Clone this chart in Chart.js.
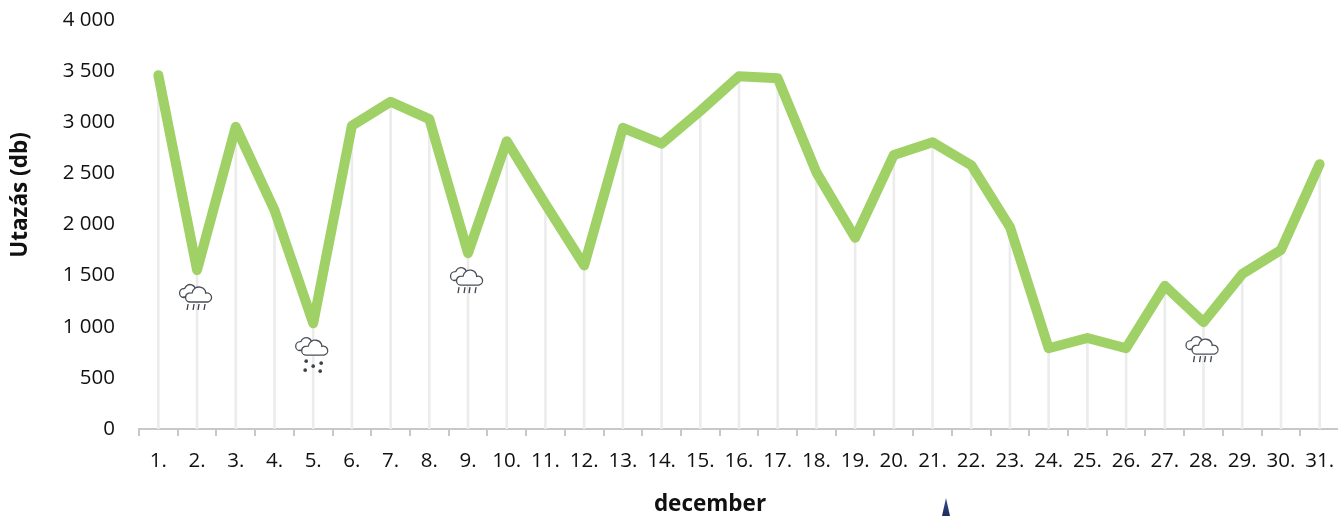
<!DOCTYPE html>
<html>
<head>
<meta charset="utf-8">
<title>Utazás</title>
<script src="https://cdn.jsdelivr.net/npm/chart.js@4"></script>
<style>
  html, body { margin: 0; padding: 0; background: #fff; overflow: hidden; }
  #wrap { width: 1340px; height: 516px; }
</style>
</head>
<body>
<div id="wrap"><canvas id="chart" width="1340" height="516"></canvas></div>
<script>
const days = ["1.", "2.", "3.", "4.", "5.", "6.", "7.", "8.", "9.", "10.", "11.", "12.", "13.", "14.", "15.", "16.",
  "17.", "18.", "19.", "20.", "21.", "22.", "23.", "24.", "25.", "26.", "27.", "28.", "29.", "30.", "31."];
const trips = [3460, 1555, 2955, 2140, 1035, 2965, 3200, 3030, 1720, 2815, 2200, 1600, 2945, 2790, 3110, 3450,
  3430, 2510, 1870, 2680, 2805, 2580, 1975, 790, 890, 790, 1400, 1045, 1515, 1750, 2590];
const yTickLabels = ["0", "500", "1 000", "1 500", "2 000", "2 500", "3 000", "3 500", "4 000"];
const rainDays = [1, 8, 27];
const snowDays = [4];

const FONT = "'Open Sans', sans-serif";
const TEXT = "#111111";

function drawClouds(ctx, x, y) {
  ctx.lineWidth = 1.3;
  ctx.strokeStyle = "#4a4f57";
  ctx.fillStyle = "#fff";
  // back cloud
  ctx.beginPath();
  ctx.moveTo(x - 8, y + 12);
  ctx.lineTo(x - 12, y + 12);
  ctx.arc(x - 12, y + 8, 4.5, Math.PI * 0.5, Math.PI * 1.5);
  ctx.arc(x - 6, y + 5, 5.5, Math.PI * 1.1, Math.PI * 1.95);
  ctx.lineTo(x + 2, y + 8);
  ctx.fill();
  ctx.stroke();
  // front cloud
  ctx.beginPath();
  ctx.moveTo(x - 6, y + 17);
  ctx.arc(x - 6, y + 12.5, 4.5, Math.PI * 0.5, Math.PI * 1.4);
  ctx.arc(x + 3, y + 9, 7, Math.PI * 1.05, Math.PI * 1.85);
  ctx.arc(x + 11, y + 12.5, 4.5, Math.PI * 1.4, Math.PI * 0.5);
  ctx.closePath();
  ctx.fill();
  ctx.stroke();
}

function drawRain(ctx, x, y) {
  ctx.strokeStyle = "#3d4249";
  ctx.lineWidth = 1.3;
  [-9, -3, 2, 8].forEach((dx) => {
    ctx.beginPath();
    ctx.moveTo(x + dx + 1, y + 19);
    ctx.lineTo(x + dx, y + 25);
    ctx.stroke();
  });
}

function drawSnow(ctx, x, y) {
  ctx.fillStyle = "#3d4249";
  [[-6, 23], [9, 25], [1, 28], [-7, 32], [8, 33]].forEach(([dx, dy]) => {
    ctx.beginPath();
    ctx.arc(x + dx, y + dy, 1.8, 0, Math.PI * 2);
    ctx.fill();
  });
}

const weatherIcons = {
  id: "weatherIcons",
  afterDatasetsDraw(chart) {
    const { ctx, scales } = chart;
    ctx.save();
    rainDays.concat(snowDays).forEach((i) => {
      const x = scales.x.getPixelForValue(i) - 1;
      const y = scales.y.getPixelForValue(trips[i]) + 15;
      drawClouds(ctx, x, y);
      if (snowDays.includes(i)) drawSnow(ctx, x, y);
      else drawRain(ctx, x, y);
    });
    // navy tip cut off at the bottom of the picture
    const tip = ctx.createLinearGradient(0, 498, 0, 516);
    tip.addColorStop(0, "#3a4f8f");
    tip.addColorStop(1, "#1c2a5e");
    ctx.fillStyle = tip;
    ctx.beginPath();
    ctx.moveTo(946, 498);
    ctx.lineTo(950, 516);
    ctx.lineTo(942, 516);
    ctx.closePath();
    ctx.fill();

    // axis titles sit off-centre in the original, so they are placed by hand
    ctx.fillStyle = TEXT;
    ctx.textAlign = "center";
    ctx.textBaseline = "middle";
    ctx.font = "bold 22.5px " + FONT;
    ctx.fillText("december", 710, 505);
    ctx.translate(21, 195);
    ctx.rotate(-Math.PI / 2);
    ctx.fillText("Utazás (db)", 0, 0);
    ctx.restore();
  },
};

new Chart(document.getElementById("chart"), {
  type: "line",
  plugins: [weatherIcons],
  data: {
    labels: days,
    datasets: [
      {
        type: "line",
        data: trips,
        borderColor: "#9fd166",
        borderWidth: 10,
        borderCapStyle: "round",
        borderJoinStyle: "round",
        pointRadius: 0,
        tension: 0,
        clip: false,
        order: 1,
      },
      {
        type: "bar",
        data: trips,
        backgroundColor: "#ececec",
        barThickness: 2,
        order: 2,
      },
    ],
  },
  options: {
    responsive: false,
    animation: false,
    devicePixelRatio: 1,
    layout: { padding: { top: 20, right: 1, bottom: 0, left: 0 } },
    plugins: {
      legend: { display: false },
      tooltip: { enabled: false },
    },
    scales: {
      x: {
        offset: true,
        afterFit: (s) => {
          s.height = 87;
          s.paddingLeft = 0;
          s.paddingRight = 0;
        },
        grid: {
          offset: true,
          drawOnChartArea: false,
          color: "#c8c8c8",
          lineWidth: 2,
          tickLength: 7,
        },
        border: { color: "#c8c8c8", width: 2 },
        ticks: {
          color: TEXT,
          font: { family: FONT, size: 20.5 },
          padding: 13,
          maxRotation: 0,
          autoSkip: false,
        },
      },
      y: {
        min: 0,
        max: 4000,
        afterFit: (s) => {
          s.width = 139;
          s.paddingTop = 0;
          s.paddingBottom = 0;
        },
        afterBuildTicks: (s) => {
          s.ticks = yTickLabels.map((_, i) => ({ value: i * 500 }));
        },
        grid: { display: false },
        border: { display: false },
        ticks: {
          color: TEXT,
          font: { family: FONT, size: 20.5 },
          padding: 16,
          callback: (value) => yTickLabels[value / 500],
        },
      },
    },
  },
});
</script>
</body>
</html>
